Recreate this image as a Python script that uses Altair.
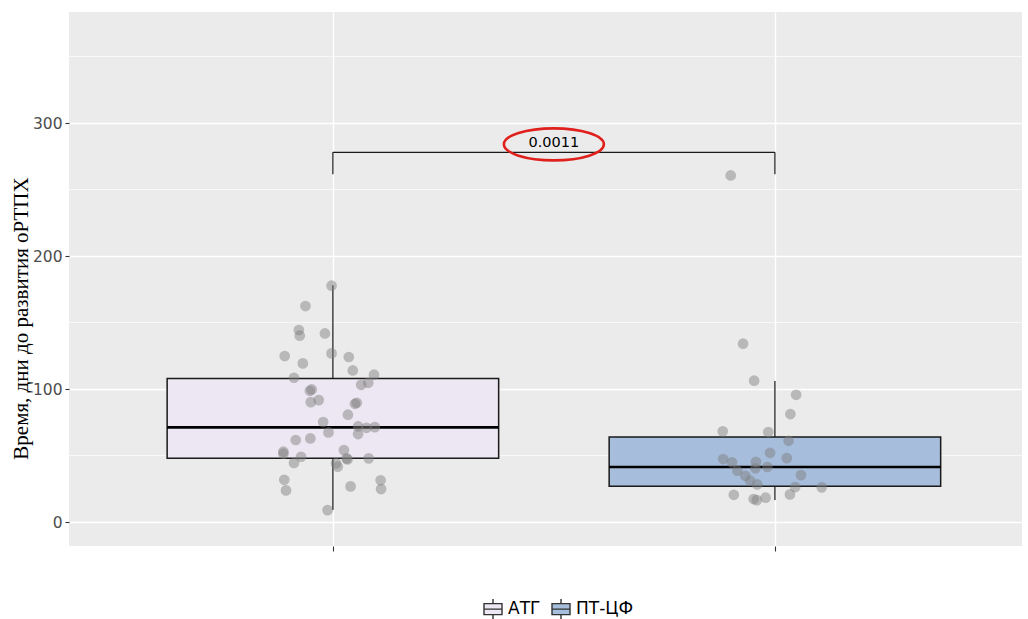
import altair as alt
import pandas as pd

# Groups and box-plot summary statistics (days)
groups = ["АТГ", "ПТ-ЦФ"]
group_pos = [1, 2]
fills = ["#ECE7F2", "#A6BDDB"]
q1 = [48, 27]
median = [71.2, 41.4]
q3 = [108, 64]
whisk_lo = [9, 16.5]
whisk_hi = [178, 106]
box_width = 0.75

# Individual observations with their horizontal jitter (category units)
atg_days = [177.7, 162.4, 144.4, 140.1, 141.8, 124.8, 126.8, 124.1, 119.3, 114.0,
            108.5, 110.8, 104.7, 103.2, 99.7, 98.7, 90.2, 91.7, 88.9, 89.7,
            80.7, 75.2, 67.4, 71.9, 70.9, 71.4, 66.2, 61.7, 62.9, 52.9,
            51.4, 49.1, 54.1, 47.9, 47.1, 47.9, 44.4, 44.1, 41.6, 31.8,
            23.8, 26.8, 31.4, 24.8, 9.0]
atg_jitter = [-0.003, -0.062, -0.077, -0.075, -0.018, -0.109, -0.003, 0.036, -0.068, 0.045,
              -0.088, 0.093, 0.080, 0.064, -0.048, -0.052, -0.050, -0.032, 0.050, 0.054,
              0.034, -0.022, -0.010, 0.057, 0.076, 0.095, 0.057, -0.084, -0.051, -0.112,
              -0.112, -0.072, 0.025, 0.031, 0.033, 0.081, -0.088, 0.007, 0.011, -0.110,
              -0.106, 0.040, 0.108, 0.109, -0.012]
ptcf_days = [260.6, 134.1, 106.3, 95.7, 81.2, 68.2, 67.7, 61.1, 52.1, 47.4,
             48.1, 44.9, 45.3, 41.4, 40.4, 38.6, 34.8, 35.3, 31.1, 28.3,
             26.3, 26.1, 20.5, 20.8, 17.3, 16.5, 18.3]
ptcf_jitter = [-0.100, -0.072, -0.047, 0.048, 0.035, -0.118, -0.015, 0.031, -0.011, -0.117,
               0.027, -0.097, -0.043, -0.017, -0.044, -0.085, -0.067, 0.059, -0.056, -0.040,
               0.046, 0.106, -0.093, 0.034, -0.048, -0.041, -0.021]

# Significance bracket
p_label = "0.0011"
bracket_y = 278
bracket_tip = 261.5
ellipse_y = 284

y_ticks = [0, 100, 200, 300]
y_minor = [50, 150, 250, 350]

SANS = "DejaVu Sans"
SERIF = "Liberation Serif"

box_df = pd.DataFrame({
    "group": groups, "pos": group_pos, "q1": q1, "median": median,
    "q3": q3, "lo": whisk_lo, "hi": whisk_hi,
})
box_df["left"] = box_df["pos"] - box_width / 2
box_df["right"] = box_df["pos"] + box_width / 2

pts_df = pd.DataFrame({
    "xj": [group_pos[0] + j for j in atg_jitter] + [group_pos[1] + j for j in ptcf_jitter],
    "days": atg_days + ptcf_days,
})

bracket_df = pd.DataFrame({
    "x": [group_pos[0], group_pos[0], group_pos[1]],
    "x2": [group_pos[1], group_pos[0], group_pos[1]],
    "y": [bracket_y, bracket_y, bracket_y],
    "y2": [bracket_y, bracket_tip, bracket_tip],
})
mid = (group_pos[0] + group_pos[1]) / 2
label_df = pd.DataFrame({"x": [mid], "y": [bracket_y], "label": [p_label]})
ellipse_df = pd.DataFrame({"x": [mid], "y": [ellipse_y]})
minor_df = pd.DataFrame({"v": y_minor})
key_df = pd.DataFrame({"group": groups})

xs = alt.Scale(domain=[0.403, 2.559], nice=False, zero=False)
ys = alt.Scale(domain=[-18, 383.5], nice=False, zero=False)

TITLE = "Время, дни до развития оРТПХ"
xax = alt.Axis(values=group_pos, labels=False, title=None, domain=False,
               ticks=True, tickSize=5, tickColor="#333333", tickWidth=1.1,
               grid=True, gridColor="white", gridWidth=1.4)
yax = alt.Axis(values=y_ticks, title=TITLE, domain=False, tickSize=4,
               tickColor="#333333", tickWidth=1.1, labelPadding=3,
               labelFont=SANS, labelFontSize=15.5, labelColor="#4D4D4D",
               grid=True, gridColor="white", gridWidth=1.4,
               titleFont=SERIF, titleFontSize=21, titleFontWeight="normal",
               titleColor="black", titleX=-42, titleY=306,
               titleBaseline="alphabetic", titleAngle=270)


def X(f):
    return alt.X(f, type="quantitative", scale=xs, axis=xax, title=None)


def Y(f):
    return alt.Y(f, type="quantitative", scale=ys, axis=yax, title=TITLE)


minor = alt.Chart(minor_df).mark_rule(color="white", strokeWidth=0.7).encode(
    y=Y("v"), x=alt.value(0), x2=alt.value(953)
)

whiskers = alt.Chart(box_df).mark_rule(color="#333333", strokeWidth=1.4).encode(
    x=X("pos"), y=Y("lo"), y2="hi"
)

legend_symbol = "M-0.9,-0.55H0.9V0.55H-0.9Z M-0.9,0H0.9 M0,-0.55V-1 M0,0.55V1"

boxes = alt.Chart(box_df).mark_rect(stroke="#1A1A1A", strokeWidth=1.5).encode(
    x=X("left"), x2="right", y=Y("q1"), y2="q3",
    color=alt.Color("group:N", scale=alt.Scale(domain=groups, range=fills),
                    legend=alt.Legend(title=None, orient="none", legendX=413,
                                      legendY=586, direction="horizontal",
                                      symbolType=legend_symbol, symbolSize=400,
                                      symbolStrokeColor="#333333",
                                      symbolStrokeWidth=1.4,
                                      labelFont=SANS, labelFontSize=17,
                                      labelColor="black", labelOffset=4,
                                      columnPadding=8, padding=0)),
)

medians = alt.Chart(box_df).mark_rule(color="black", strokeWidth=2.6).encode(
    x=X("left"), x2="right", y=Y("median")
)

points = alt.Chart(pts_df).mark_circle(size=115, color="#7F7F7F", opacity=0.48).encode(
    x=X("xj"), y=Y("days")
)

bracket = alt.Chart(bracket_df).mark_rule(color="#1A1A1A", strokeWidth=1.2).encode(
    x=X("x"), x2="x2", y=Y("y"), y2="y2"
)

p_text = alt.Chart(label_df).mark_text(font=SANS, fontSize=14.5, color="black",
                                        baseline="alphabetic", dy=-5).encode(
    x=X("x"), y=Y("y"), text="label:N"
)

ellipse_path = ("M-1,0 C-1,-0.1767 -0.5523,-0.32 0,-0.32 "
                "C0.5523,-0.32 1,-0.1767 1,0 "
                "C1,0.1767 0.5523,0.32 0,0.32 "
                "C-0.5523,0.32 -1,0.1767 -1,0 Z")
ellipse = alt.Chart(ellipse_df).mark_point(shape=ellipse_path, size=10000, filled=False,
                                           stroke="#E0201C", strokeWidth=2.6,
                                           opacity=1).encode(
    x=X("x"), y=Y("y")
)

chart = alt.layer(minor, whiskers, boxes, medians, points, bracket, p_text, ellipse).properties(
    width=953, height=534,
    autosize=alt.AutoSizeParams(type="none"),
    padding={"left": 69, "top": 12, "right": 6, "bottom": 73},
    background="white",
).configure_view(fill="#EBEBEB", stroke=None)

chart.save("out.html", embed_options={"renderer": "svg", "actions": False})
